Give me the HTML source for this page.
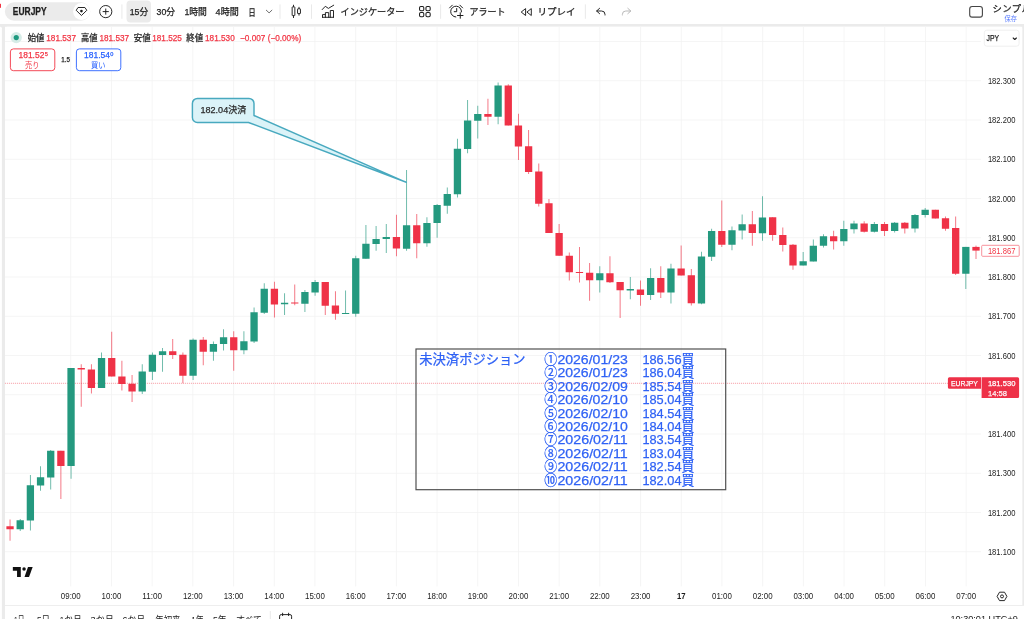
<!DOCTYPE html>
<html lang="ja"><head><meta charset="utf-8"><title>EURJPY</title>
<style>html,body{margin:0;padding:0;background:#fff}body{width:1024px;height:619px;overflow:hidden;position:relative;font-family:"Liberation Sans","Noto Sans CJK JP",sans-serif}svg{position:absolute;left:0;top:0;display:block}text{font-family:"Liberation Sans","Noto Sans CJK JP",sans-serif;stroke-width:0.25px}</style>
</head><body>
<svg width="1024" height="619" viewBox="0 0 1024 619">
<rect x="0" y="0" width="1024" height="619" fill="#fff"/>
<g id="frame">
<rect x="0" y="24" width="1024" height="2.8" fill="#ebebeb"/>
<rect x="0" y="24" width="5" height="595" fill="#ebebeb"/>
<rect x="-2" y="26.8" width="3.9" height="600" rx="1.5" fill="#fff"/>
<rect x="1022.2" y="24" width="1.8" height="581.5" fill="#ebebeb"/>
<rect x="5" y="26.8" width="1017.2" height="600" rx="2" fill="#fff"/>
<rect x="1010" y="605.5" width="14" height="14" fill="#fff"/>
<rect x="0" y="3.8" width="1" height="4" fill="#f23645"/>
</g>
<g id="grid" stroke="#f2f2f3" stroke-width="0.8" fill="none">
<line x1="5" y1="41.50" x2="981" y2="41.50"/>
<line x1="5" y1="80.75" x2="981" y2="80.75"/>
<line x1="5" y1="120.00" x2="981" y2="120.00"/>
<line x1="5" y1="159.25" x2="981" y2="159.25"/>
<line x1="5" y1="198.50" x2="981" y2="198.50"/>
<line x1="5" y1="237.75" x2="981" y2="237.75"/>
<line x1="5" y1="277.00" x2="981" y2="277.00"/>
<line x1="5" y1="316.25" x2="981" y2="316.25"/>
<line x1="5" y1="355.50" x2="981" y2="355.50"/>
<line x1="5" y1="394.75" x2="981" y2="394.75"/>
<line x1="5" y1="434.00" x2="981" y2="434.00"/>
<line x1="5" y1="473.25" x2="981" y2="473.25"/>
<line x1="5" y1="512.50" x2="981" y2="512.50"/>
<line x1="5" y1="551.75" x2="981" y2="551.75"/>
<line x1="70.75" y1="27" x2="70.75" y2="586.4"/>
<line x1="111.45" y1="27" x2="111.45" y2="586.4"/>
<line x1="152.15" y1="27" x2="152.15" y2="586.4"/>
<line x1="192.85" y1="27" x2="192.85" y2="586.4"/>
<line x1="233.55" y1="27" x2="233.55" y2="586.4"/>
<line x1="274.25" y1="27" x2="274.25" y2="586.4"/>
<line x1="314.95" y1="27" x2="314.95" y2="586.4"/>
<line x1="355.65" y1="27" x2="355.65" y2="586.4"/>
<line x1="396.35" y1="27" x2="396.35" y2="586.4"/>
<line x1="437.05" y1="27" x2="437.05" y2="586.4"/>
<line x1="477.75" y1="27" x2="477.75" y2="586.4"/>
<line x1="518.45" y1="27" x2="518.45" y2="586.4"/>
<line x1="559.15" y1="27" x2="559.15" y2="586.4"/>
<line x1="599.85" y1="27" x2="599.85" y2="586.4"/>
<line x1="640.55" y1="27" x2="640.55" y2="586.4"/>
<line x1="681.25" y1="27" x2="681.25" y2="586.4"/>
<line x1="721.95" y1="27" x2="721.95" y2="586.4"/>
<line x1="762.65" y1="27" x2="762.65" y2="586.4"/>
<line x1="803.35" y1="27" x2="803.35" y2="586.4"/>
<line x1="844.05" y1="27" x2="844.05" y2="586.4"/>
<line x1="884.75" y1="27" x2="884.75" y2="586.4"/>
<line x1="925.45" y1="27" x2="925.45" y2="586.4"/>
<line x1="966.15" y1="27" x2="966.15" y2="586.4"/>
</g>
<line x1="4.7" y1="605.5" x2="1024" y2="605.5" stroke="#ececec" stroke-width="0.9"/>
<line x1="5.2" y1="383.3" x2="948" y2="383.3" stroke="#f23645" stroke-width="0.9" stroke-dasharray="0.9 1.1" opacity="0.62"/>
<g id="candles">
<rect x="9.59" y="519.50" width="0.9" height="21.25" fill="#ef3247" opacity="0.72"/>
<rect x="6.39" y="526.25" width="7.3" height="3.00" fill="#ef3247"/>
<rect x="19.76" y="519.00" width="0.9" height="12.00" fill="#24997f" opacity="0.72"/>
<rect x="16.56" y="520.25" width="7.3" height="9.00" fill="#24997f"/>
<rect x="29.93" y="475.00" width="0.9" height="55.50" fill="#24997f" opacity="0.72"/>
<rect x="26.73" y="485.25" width="7.3" height="35.25" fill="#24997f"/>
<rect x="40.10" y="466.25" width="0.9" height="24.50" fill="#24997f" opacity="0.72"/>
<rect x="36.90" y="477.25" width="7.3" height="8.25" fill="#24997f"/>
<rect x="50.26" y="450.00" width="0.9" height="39.50" fill="#24997f" opacity="0.72"/>
<rect x="47.06" y="450.75" width="7.3" height="26.75" fill="#24997f"/>
<rect x="60.43" y="450.75" width="0.9" height="48.25" fill="#ef3247" opacity="0.72"/>
<rect x="57.23" y="450.75" width="7.3" height="15.25" fill="#ef3247"/>
<rect x="70.60" y="368.00" width="0.9" height="110.75" fill="#24997f" opacity="0.72"/>
<rect x="67.40" y="368.00" width="7.3" height="98.00" fill="#24997f"/>
<rect x="80.77" y="364.25" width="0.9" height="42.50" fill="#ef3247" opacity="0.72"/>
<rect x="77.57" y="368.00" width="7.3" height="1.50" fill="#ef3247"/>
<rect x="90.94" y="364.25" width="0.9" height="29.25" fill="#ef3247" opacity="0.72"/>
<rect x="87.74" y="369.50" width="7.3" height="18.50" fill="#ef3247"/>
<rect x="101.10" y="352.50" width="0.9" height="35.50" fill="#24997f" opacity="0.72"/>
<rect x="97.90" y="358.00" width="7.3" height="30.00" fill="#24997f"/>
<rect x="111.27" y="331.75" width="0.9" height="44.75" fill="#ef3247" opacity="0.72"/>
<rect x="108.07" y="358.00" width="7.3" height="18.50" fill="#ef3247"/>
<rect x="121.44" y="360.75" width="0.9" height="29.75" fill="#ef3247" opacity="0.72"/>
<rect x="118.24" y="376.50" width="7.3" height="7.50" fill="#ef3247"/>
<rect x="131.61" y="375.00" width="0.9" height="27.00" fill="#ef3247" opacity="0.72"/>
<rect x="128.41" y="383.75" width="7.3" height="7.75" fill="#ef3247"/>
<rect x="141.78" y="364.25" width="0.9" height="29.75" fill="#24997f" opacity="0.72"/>
<rect x="138.58" y="371.50" width="7.3" height="20.00" fill="#24997f"/>
<rect x="151.94" y="352.50" width="0.9" height="27.50" fill="#24997f" opacity="0.72"/>
<rect x="148.74" y="354.75" width="7.3" height="17.00" fill="#24997f"/>
<rect x="162.11" y="348.00" width="0.9" height="23.75" fill="#24997f" opacity="0.72"/>
<rect x="158.91" y="351.25" width="7.3" height="3.75" fill="#24997f"/>
<rect x="172.28" y="339.00" width="0.9" height="20.00" fill="#ef3247" opacity="0.72"/>
<rect x="169.08" y="351.25" width="7.3" height="3.75" fill="#ef3247"/>
<rect x="182.45" y="352.50" width="0.9" height="30.75" fill="#ef3247" opacity="0.72"/>
<rect x="179.25" y="354.75" width="7.3" height="21.00" fill="#ef3247"/>
<rect x="192.62" y="338.50" width="0.9" height="41.50" fill="#24997f" opacity="0.72"/>
<rect x="189.42" y="339.75" width="7.3" height="36.00" fill="#24997f"/>
<rect x="202.78" y="337.00" width="0.9" height="28.25" fill="#ef3247" opacity="0.72"/>
<rect x="199.58" y="339.75" width="7.3" height="12.00" fill="#ef3247"/>
<rect x="212.95" y="341.50" width="0.9" height="19.25" fill="#24997f" opacity="0.72"/>
<rect x="209.75" y="344.00" width="7.3" height="7.75" fill="#24997f"/>
<rect x="223.12" y="329.25" width="0.9" height="21.25" fill="#24997f" opacity="0.72"/>
<rect x="219.92" y="337.25" width="7.3" height="6.75" fill="#24997f"/>
<rect x="233.29" y="331.25" width="0.9" height="39.50" fill="#ef3247" opacity="0.72"/>
<rect x="230.09" y="337.25" width="7.3" height="13.00" fill="#ef3247"/>
<rect x="243.46" y="331.25" width="0.9" height="23.00" fill="#24997f" opacity="0.72"/>
<rect x="240.26" y="341.25" width="7.3" height="9.00" fill="#24997f"/>
<rect x="253.62" y="307.50" width="0.9" height="35.50" fill="#24997f" opacity="0.72"/>
<rect x="250.42" y="312.25" width="7.3" height="29.25" fill="#24997f"/>
<rect x="263.79" y="283.25" width="0.9" height="30.75" fill="#24997f" opacity="0.72"/>
<rect x="260.59" y="288.75" width="7.3" height="24.00" fill="#24997f"/>
<rect x="273.96" y="281.75" width="0.9" height="35.75" fill="#ef3247" opacity="0.72"/>
<rect x="270.76" y="288.75" width="7.3" height="15.75" fill="#ef3247"/>
<rect x="284.13" y="293.25" width="0.9" height="21.75" fill="#24997f" opacity="0.72"/>
<rect x="280.93" y="302.75" width="7.3" height="1.50" fill="#24997f"/>
<rect x="294.30" y="284.50" width="0.9" height="20.75" fill="#ef3247" opacity="0.72"/>
<rect x="291.10" y="302.50" width="7.3" height="1.00" fill="#ef3247"/>
<rect x="304.46" y="290.00" width="0.9" height="22.00" fill="#24997f" opacity="0.72"/>
<rect x="301.26" y="292.00" width="7.3" height="11.75" fill="#24997f"/>
<rect x="314.63" y="280.00" width="0.9" height="15.75" fill="#24997f" opacity="0.72"/>
<rect x="311.43" y="282.00" width="7.3" height="10.50" fill="#24997f"/>
<rect x="324.80" y="282.00" width="0.9" height="33.00" fill="#ef3247" opacity="0.72"/>
<rect x="321.60" y="282.00" width="7.3" height="23.75" fill="#ef3247"/>
<rect x="334.97" y="291.25" width="0.9" height="28.50" fill="#ef3247" opacity="0.72"/>
<rect x="331.77" y="305.50" width="7.3" height="8.25" fill="#ef3247"/>
<rect x="345.14" y="290.50" width="0.9" height="23.50" fill="#24997f" opacity="0.72"/>
<rect x="341.94" y="313.00" width="7.3" height="1.00" fill="#24997f"/>
<rect x="355.30" y="255.75" width="0.9" height="61.00" fill="#24997f" opacity="0.72"/>
<rect x="352.10" y="258.25" width="7.3" height="55.50" fill="#24997f"/>
<rect x="365.47" y="225.00" width="0.9" height="33.75" fill="#24997f" opacity="0.72"/>
<rect x="362.27" y="243.75" width="7.3" height="15.00" fill="#24997f"/>
<rect x="375.64" y="226.00" width="0.9" height="24.75" fill="#24997f" opacity="0.72"/>
<rect x="372.44" y="239.00" width="7.3" height="5.00" fill="#24997f"/>
<rect x="385.81" y="224.00" width="0.9" height="29.00" fill="#24997f" opacity="0.72"/>
<rect x="382.61" y="237.00" width="7.3" height="2.00" fill="#24997f"/>
<rect x="395.98" y="214.75" width="0.9" height="41.50" fill="#ef3247" opacity="0.72"/>
<rect x="392.78" y="237.00" width="7.3" height="11.50" fill="#ef3247"/>
<rect x="406.14" y="170.00" width="0.9" height="80.75" fill="#24997f" opacity="0.72"/>
<rect x="402.94" y="225.25" width="7.3" height="23.50" fill="#24997f"/>
<rect x="416.31" y="214.00" width="0.9" height="44.25" fill="#ef3247" opacity="0.72"/>
<rect x="413.11" y="225.25" width="7.3" height="18.00" fill="#ef3247"/>
<rect x="426.48" y="217.25" width="0.9" height="29.50" fill="#24997f" opacity="0.72"/>
<rect x="423.28" y="223.00" width="7.3" height="20.25" fill="#24997f"/>
<rect x="436.65" y="204.00" width="0.9" height="33.75" fill="#24997f" opacity="0.72"/>
<rect x="433.45" y="205.00" width="7.3" height="18.00" fill="#24997f"/>
<rect x="446.82" y="187.50" width="0.9" height="26.25" fill="#24997f" opacity="0.72"/>
<rect x="443.62" y="194.00" width="7.3" height="11.75" fill="#24997f"/>
<rect x="456.98" y="138.75" width="0.9" height="58.75" fill="#24997f" opacity="0.72"/>
<rect x="453.78" y="148.75" width="7.3" height="45.50" fill="#24997f"/>
<rect x="467.15" y="100.00" width="0.9" height="53.25" fill="#24997f" opacity="0.72"/>
<rect x="463.95" y="120.50" width="7.3" height="28.50" fill="#24997f"/>
<rect x="477.32" y="105.75" width="0.9" height="32.75" fill="#24997f" opacity="0.72"/>
<rect x="474.12" y="114.00" width="7.3" height="6.75" fill="#24997f"/>
<rect x="487.49" y="98.75" width="0.9" height="26.25" fill="#ef3247" opacity="0.72"/>
<rect x="484.29" y="114.00" width="7.3" height="2.75" fill="#ef3247"/>
<rect x="497.66" y="82.50" width="0.9" height="41.75" fill="#24997f" opacity="0.72"/>
<rect x="494.46" y="85.50" width="7.3" height="31.25" fill="#24997f"/>
<rect x="507.82" y="84.25" width="0.9" height="41.25" fill="#ef3247" opacity="0.72"/>
<rect x="504.62" y="85.50" width="7.3" height="40.00" fill="#ef3247"/>
<rect x="517.99" y="113.75" width="0.9" height="46.25" fill="#ef3247" opacity="0.72"/>
<rect x="514.79" y="125.50" width="7.3" height="21.00" fill="#ef3247"/>
<rect x="528.16" y="130.00" width="0.9" height="44.00" fill="#ef3247" opacity="0.72"/>
<rect x="524.96" y="146.25" width="7.3" height="25.75" fill="#ef3247"/>
<rect x="538.33" y="163.50" width="0.9" height="43.00" fill="#ef3247" opacity="0.72"/>
<rect x="535.13" y="171.50" width="7.3" height="32.25" fill="#ef3247"/>
<rect x="548.50" y="199.00" width="0.9" height="34.00" fill="#ef3247" opacity="0.72"/>
<rect x="545.30" y="203.25" width="7.3" height="29.75" fill="#ef3247"/>
<rect x="558.66" y="224.00" width="0.9" height="31.75" fill="#ef3247" opacity="0.72"/>
<rect x="555.46" y="233.00" width="7.3" height="22.75" fill="#ef3247"/>
<rect x="568.83" y="252.50" width="0.9" height="28.00" fill="#ef3247" opacity="0.72"/>
<rect x="565.63" y="255.75" width="7.3" height="16.50" fill="#ef3247"/>
<rect x="579.00" y="247.00" width="0.9" height="35.50" fill="#ef3247" opacity="0.72"/>
<rect x="575.80" y="272.00" width="7.3" height="1.00" fill="#ef3247"/>
<rect x="589.17" y="263.00" width="0.9" height="37.75" fill="#ef3247" opacity="0.72"/>
<rect x="585.97" y="272.75" width="7.3" height="7.50" fill="#ef3247"/>
<rect x="599.34" y="266.25" width="0.9" height="26.25" fill="#24997f" opacity="0.72"/>
<rect x="596.14" y="273.25" width="7.3" height="7.00" fill="#24997f"/>
<rect x="609.50" y="256.25" width="0.9" height="26.75" fill="#ef3247" opacity="0.72"/>
<rect x="606.30" y="273.25" width="7.3" height="9.00" fill="#ef3247"/>
<rect x="619.67" y="282.00" width="0.9" height="36.00" fill="#ef3247" opacity="0.72"/>
<rect x="616.47" y="282.00" width="7.3" height="8.25" fill="#ef3247"/>
<rect x="629.84" y="277.00" width="0.9" height="22.25" fill="#24997f" opacity="0.72"/>
<rect x="626.64" y="289.00" width="7.3" height="1.50" fill="#24997f"/>
<rect x="640.01" y="280.50" width="0.9" height="25.25" fill="#ef3247" opacity="0.72"/>
<rect x="636.81" y="289.50" width="7.3" height="5.50" fill="#ef3247"/>
<rect x="650.18" y="268.25" width="0.9" height="31.75" fill="#24997f" opacity="0.72"/>
<rect x="646.98" y="278.00" width="7.3" height="17.00" fill="#24997f"/>
<rect x="660.34" y="266.25" width="0.9" height="31.75" fill="#ef3247" opacity="0.72"/>
<rect x="657.14" y="278.00" width="7.3" height="14.50" fill="#ef3247"/>
<rect x="670.51" y="263.75" width="0.9" height="39.75" fill="#24997f" opacity="0.72"/>
<rect x="667.31" y="268.50" width="7.3" height="24.00" fill="#24997f"/>
<rect x="680.68" y="245.50" width="0.9" height="30.00" fill="#ef3247" opacity="0.72"/>
<rect x="677.48" y="268.50" width="7.3" height="7.00" fill="#ef3247"/>
<rect x="690.85" y="269.00" width="0.9" height="36.50" fill="#ef3247" opacity="0.72"/>
<rect x="687.65" y="275.25" width="7.3" height="28.00" fill="#ef3247"/>
<rect x="701.02" y="251.75" width="0.9" height="52.50" fill="#24997f" opacity="0.72"/>
<rect x="697.82" y="256.50" width="7.3" height="47.00" fill="#24997f"/>
<rect x="711.18" y="228.75" width="0.9" height="32.25" fill="#24997f" opacity="0.72"/>
<rect x="707.98" y="231.00" width="7.3" height="25.75" fill="#24997f"/>
<rect x="721.35" y="200.50" width="0.9" height="46.50" fill="#ef3247" opacity="0.72"/>
<rect x="718.15" y="231.00" width="7.3" height="13.75" fill="#ef3247"/>
<rect x="731.52" y="226.50" width="0.9" height="23.75" fill="#24997f" opacity="0.72"/>
<rect x="728.32" y="230.25" width="7.3" height="14.50" fill="#24997f"/>
<rect x="741.69" y="214.50" width="0.9" height="25.00" fill="#24997f" opacity="0.72"/>
<rect x="738.49" y="224.25" width="7.3" height="6.25" fill="#24997f"/>
<rect x="751.86" y="211.00" width="0.9" height="34.75" fill="#ef3247" opacity="0.72"/>
<rect x="748.66" y="224.25" width="7.3" height="8.75" fill="#ef3247"/>
<rect x="762.02" y="196.25" width="0.9" height="44.50" fill="#24997f" opacity="0.72"/>
<rect x="758.82" y="217.50" width="7.3" height="15.75" fill="#24997f"/>
<rect x="772.19" y="217.25" width="0.9" height="23.50" fill="#ef3247" opacity="0.72"/>
<rect x="768.99" y="217.25" width="7.3" height="17.75" fill="#ef3247"/>
<rect x="782.36" y="227.50" width="0.9" height="24.00" fill="#ef3247" opacity="0.72"/>
<rect x="779.16" y="235.00" width="7.3" height="10.00" fill="#ef3247"/>
<rect x="792.53" y="244.00" width="0.9" height="25.75" fill="#ef3247" opacity="0.72"/>
<rect x="789.33" y="244.75" width="7.3" height="20.75" fill="#ef3247"/>
<rect x="802.70" y="252.00" width="0.9" height="13.50" fill="#24997f" opacity="0.72"/>
<rect x="799.50" y="261.25" width="7.3" height="4.25" fill="#24997f"/>
<rect x="812.86" y="239.50" width="0.9" height="22.00" fill="#24997f" opacity="0.72"/>
<rect x="809.66" y="245.75" width="7.3" height="15.75" fill="#24997f"/>
<rect x="823.03" y="234.25" width="0.9" height="13.25" fill="#24997f" opacity="0.72"/>
<rect x="819.83" y="236.25" width="7.3" height="9.50" fill="#24997f"/>
<rect x="833.20" y="230.75" width="0.9" height="18.75" fill="#ef3247" opacity="0.72"/>
<rect x="830.00" y="236.25" width="7.3" height="5.00" fill="#ef3247"/>
<rect x="843.37" y="220.75" width="0.9" height="25.00" fill="#24997f" opacity="0.72"/>
<rect x="840.17" y="229.00" width="7.3" height="12.25" fill="#24997f"/>
<rect x="853.54" y="220.75" width="0.9" height="12.75" fill="#24997f" opacity="0.72"/>
<rect x="850.34" y="223.50" width="7.3" height="5.75" fill="#24997f"/>
<rect x="863.70" y="221.25" width="0.9" height="11.25" fill="#ef3247" opacity="0.72"/>
<rect x="860.50" y="223.50" width="7.3" height="8.25" fill="#ef3247"/>
<rect x="873.87" y="222.00" width="0.9" height="10.50" fill="#24997f" opacity="0.72"/>
<rect x="870.67" y="224.00" width="7.3" height="7.75" fill="#24997f"/>
<rect x="884.04" y="222.00" width="0.9" height="14.00" fill="#ef3247" opacity="0.72"/>
<rect x="880.84" y="224.00" width="7.3" height="7.00" fill="#ef3247"/>
<rect x="894.21" y="222.00" width="0.9" height="10.50" fill="#24997f" opacity="0.72"/>
<rect x="891.01" y="222.75" width="7.3" height="8.25" fill="#24997f"/>
<rect x="904.38" y="222.00" width="0.9" height="11.50" fill="#ef3247" opacity="0.72"/>
<rect x="901.18" y="222.75" width="7.3" height="5.75" fill="#ef3247"/>
<rect x="914.54" y="214.00" width="0.9" height="18.50" fill="#24997f" opacity="0.72"/>
<rect x="911.34" y="215.00" width="7.3" height="13.50" fill="#24997f"/>
<rect x="924.71" y="208.00" width="0.9" height="9.50" fill="#24997f" opacity="0.72"/>
<rect x="921.51" y="209.75" width="7.3" height="5.25" fill="#24997f"/>
<rect x="934.88" y="209.75" width="0.9" height="8.75" fill="#ef3247" opacity="0.72"/>
<rect x="931.68" y="209.75" width="7.3" height="8.75" fill="#ef3247"/>
<rect x="945.05" y="216.50" width="0.9" height="14.25" fill="#ef3247" opacity="0.72"/>
<rect x="941.85" y="218.25" width="7.3" height="10.50" fill="#ef3247"/>
<rect x="955.22" y="216.50" width="0.9" height="58.50" fill="#ef3247" opacity="0.72"/>
<rect x="952.02" y="228.00" width="7.3" height="45.75" fill="#ef3247"/>
<rect x="965.38" y="246.90" width="0.9" height="42.10" fill="#24997f" opacity="0.72"/>
<rect x="962.18" y="246.90" width="7.3" height="26.85" fill="#24997f"/>
<rect x="975.55" y="245.60" width="0.9" height="13.40" fill="#ef3247" opacity="0.72"/>
<rect x="972.35" y="246.90" width="7.3" height="3.70" fill="#ef3247"/>
</g>
<g id="callout">
<path d="M197.4 98.4 H249 a5 5 0 0 1 5 5 V115.5 L406.3 182.3 L248.5 122.5 H197.4 a5 5 0 0 1 -5 -5 V103.4 a5 5 0 0 1 5 -5 Z" fill="#d6f1f7" fill-opacity="0.88" stroke="#48a9bf" stroke-width="1.45" stroke-linejoin="round"/>
<text x="200.5" y="112.9" font-size="9.33" fill="#2a2a2a" stroke="#2a2a2a" stroke-width="0.12" textLength="45.8" lengthAdjust="spacingAndGlyphs">182.04決済</text>
</g>
<g id="posbox">
<rect x="416" y="349" width="309.7" height="140.7" fill="none" stroke="#505050" stroke-width="1.2"/>
<g font-size="13.3" fill="#2f62f5" stroke="#2f62f5">
<text x="419.3" y="363.7" textLength="106.3" lengthAdjust="spacingAndGlyphs">未決済ポジション</text>
<text x="544.2" y="363.70" textLength="13" lengthAdjust="spacingAndGlyphs">①</text>
<text x="557.4" y="363.70" textLength="70.4" lengthAdjust="spacingAndGlyphs">2026/01/23</text>
<text x="642.4" y="363.70" textLength="39.1" lengthAdjust="spacingAndGlyphs">186.56</text>
<text x="681.5" y="363.70" textLength="12.8" lengthAdjust="spacingAndGlyphs">買</text>
<text x="544.2" y="377.15" textLength="13" lengthAdjust="spacingAndGlyphs">②</text>
<text x="557.4" y="377.15" textLength="70.4" lengthAdjust="spacingAndGlyphs">2026/01/23</text>
<text x="642.4" y="377.15" textLength="39.1" lengthAdjust="spacingAndGlyphs">186.04</text>
<text x="681.5" y="377.15" textLength="12.8" lengthAdjust="spacingAndGlyphs">買</text>
<text x="544.2" y="390.60" textLength="13" lengthAdjust="spacingAndGlyphs">③</text>
<text x="557.4" y="390.60" textLength="70.4" lengthAdjust="spacingAndGlyphs">2026/02/09</text>
<text x="642.4" y="390.60" textLength="39.1" lengthAdjust="spacingAndGlyphs">185.54</text>
<text x="681.5" y="390.60" textLength="12.8" lengthAdjust="spacingAndGlyphs">買</text>
<text x="544.2" y="404.05" textLength="13" lengthAdjust="spacingAndGlyphs">④</text>
<text x="557.4" y="404.05" textLength="70.4" lengthAdjust="spacingAndGlyphs">2026/02/10</text>
<text x="642.4" y="404.05" textLength="39.1" lengthAdjust="spacingAndGlyphs">185.04</text>
<text x="681.5" y="404.05" textLength="12.8" lengthAdjust="spacingAndGlyphs">買</text>
<text x="544.2" y="417.50" textLength="13" lengthAdjust="spacingAndGlyphs">⑤</text>
<text x="557.4" y="417.50" textLength="70.4" lengthAdjust="spacingAndGlyphs">2026/02/10</text>
<text x="642.4" y="417.50" textLength="39.1" lengthAdjust="spacingAndGlyphs">184.54</text>
<text x="681.5" y="417.50" textLength="12.8" lengthAdjust="spacingAndGlyphs">買</text>
<text x="544.2" y="430.95" textLength="13" lengthAdjust="spacingAndGlyphs">⑥</text>
<text x="557.4" y="430.95" textLength="70.4" lengthAdjust="spacingAndGlyphs">2026/02/10</text>
<text x="642.4" y="430.95" textLength="39.1" lengthAdjust="spacingAndGlyphs">184.04</text>
<text x="681.5" y="430.95" textLength="12.8" lengthAdjust="spacingAndGlyphs">買</text>
<text x="544.2" y="444.40" textLength="13" lengthAdjust="spacingAndGlyphs">⑦</text>
<text x="557.4" y="444.40" textLength="70.4" lengthAdjust="spacingAndGlyphs">2026/02/11</text>
<text x="642.4" y="444.40" textLength="39.1" lengthAdjust="spacingAndGlyphs">183.54</text>
<text x="681.5" y="444.40" textLength="12.8" lengthAdjust="spacingAndGlyphs">買</text>
<text x="544.2" y="457.85" textLength="13" lengthAdjust="spacingAndGlyphs">⑧</text>
<text x="557.4" y="457.85" textLength="70.4" lengthAdjust="spacingAndGlyphs">2026/02/11</text>
<text x="642.4" y="457.85" textLength="39.1" lengthAdjust="spacingAndGlyphs">183.04</text>
<text x="681.5" y="457.85" textLength="12.8" lengthAdjust="spacingAndGlyphs">買</text>
<text x="544.2" y="471.30" textLength="13" lengthAdjust="spacingAndGlyphs">⑨</text>
<text x="557.4" y="471.30" textLength="70.4" lengthAdjust="spacingAndGlyphs">2026/02/11</text>
<text x="642.4" y="471.30" textLength="39.1" lengthAdjust="spacingAndGlyphs">182.54</text>
<text x="681.5" y="471.30" textLength="12.8" lengthAdjust="spacingAndGlyphs">買</text>
<text x="544.2" y="484.75" textLength="13" lengthAdjust="spacingAndGlyphs">⑩</text>
<text x="557.4" y="484.75" textLength="70.4" lengthAdjust="spacingAndGlyphs">2026/02/11</text>
<text x="642.4" y="484.75" textLength="39.1" lengthAdjust="spacingAndGlyphs">182.04</text>
<text x="681.5" y="484.75" textLength="12.8" lengthAdjust="spacingAndGlyphs">買</text>
</g></g>
<g id="paxis" font-size="8.5" fill="#1c1c1c">
<text x="987.9" y="83.95" textLength="27.5" lengthAdjust="spacingAndGlyphs">182.300</text>
<text x="987.9" y="123.20" textLength="27.5" lengthAdjust="spacingAndGlyphs">182.200</text>
<text x="987.9" y="162.45" textLength="27.5" lengthAdjust="spacingAndGlyphs">182.100</text>
<text x="987.9" y="201.70" textLength="27.5" lengthAdjust="spacingAndGlyphs">182.000</text>
<text x="987.9" y="240.95" textLength="27.5" lengthAdjust="spacingAndGlyphs">181.900</text>
<text x="987.9" y="280.20" textLength="27.5" lengthAdjust="spacingAndGlyphs">181.800</text>
<text x="987.9" y="319.45" textLength="27.5" lengthAdjust="spacingAndGlyphs">181.700</text>
<text x="987.9" y="358.70" textLength="27.5" lengthAdjust="spacingAndGlyphs">181.600</text>
<text x="987.9" y="397.95" textLength="27.5" lengthAdjust="spacingAndGlyphs">181.500</text>
<text x="987.9" y="437.20" textLength="27.5" lengthAdjust="spacingAndGlyphs">181.400</text>
<text x="987.9" y="476.45" textLength="27.5" lengthAdjust="spacingAndGlyphs">181.300</text>
<text x="987.9" y="515.70" textLength="27.5" lengthAdjust="spacingAndGlyphs">181.200</text>
<text x="987.9" y="554.95" textLength="27.5" lengthAdjust="spacingAndGlyphs">181.100</text>
</g>
<rect x="981.7" y="245.3" width="37.5" height="11" rx="1" fill="#fff" stroke="#f5808b" stroke-width="0.85"/>
<text x="987.9" y="253.6" font-size="8.5" fill="#f23645" stroke="none" textLength="27.5" lengthAdjust="spacingAndGlyphs">181.867</text>
<path d="M949.4 377.3 H981 V388.7 H949.4 a1.5 1.5 0 0 1 -1.5 -1.5 V378.8 a1.5 1.5 0 0 1 1.5 -1.5 Z" fill="#ee3148"/>
<text x="951" y="386.4" font-size="8" fill="#fff" textLength="26.9" lengthAdjust="spacingAndGlyphs" stroke="#fff">EURJPY</text>
<path d="M981.6 377.3 H1017.6 a1.5 1.5 0 0 1 1.5 1.5 V396.6 a1.5 1.5 0 0 1 -1.5 1.5 H981.6 Z" fill="#ee3148"/>
<text x="987.9" y="386.4" font-size="8" fill="#fff" textLength="27.5" lengthAdjust="spacingAndGlyphs" stroke="#fff">181.530</text>
<text x="987.9" y="395.6" font-size="8" fill="#fff" fill-opacity="0.85" textLength="19.1" lengthAdjust="spacingAndGlyphs" stroke="#fff">14:58</text>
<rect x="984.3" y="30.2" width="34.8" height="16" rx="2.5" fill="#fff" stroke="#eeeeee" stroke-width="0.9"/>
<text x="986.6" y="41.2" font-size="8.67" fill="#1c1c1c" textLength="12.5" lengthAdjust="spacingAndGlyphs" stroke="#1c1c1c">JPY</text>
<path d="M1013.2 38 L1014.8 39.5 L1016.4 38" fill="none" stroke="#1c1c1c" stroke-width="1.1" stroke-linecap="round" stroke-linejoin="round"/>
<g id="taxis" font-size="8.5" fill="#1c1c1c" text-anchor="middle">
<text x="70.75" y="599" textLength="19.8" lengthAdjust="spacingAndGlyphs">09:00</text>
<text x="111.45" y="599" textLength="19.8" lengthAdjust="spacingAndGlyphs">10:00</text>
<text x="152.15" y="599" textLength="19.8" lengthAdjust="spacingAndGlyphs">11:00</text>
<text x="192.85" y="599" textLength="19.8" lengthAdjust="spacingAndGlyphs">12:00</text>
<text x="233.55" y="599" textLength="19.8" lengthAdjust="spacingAndGlyphs">13:00</text>
<text x="274.25" y="599" textLength="19.8" lengthAdjust="spacingAndGlyphs">14:00</text>
<text x="314.95" y="599" textLength="19.8" lengthAdjust="spacingAndGlyphs">15:00</text>
<text x="355.65" y="599" textLength="19.8" lengthAdjust="spacingAndGlyphs">16:00</text>
<text x="396.35" y="599" textLength="19.8" lengthAdjust="spacingAndGlyphs">17:00</text>
<text x="437.05" y="599" textLength="19.8" lengthAdjust="spacingAndGlyphs">18:00</text>
<text x="477.75" y="599" textLength="19.8" lengthAdjust="spacingAndGlyphs">19:00</text>
<text x="518.45" y="599" textLength="19.8" lengthAdjust="spacingAndGlyphs">20:00</text>
<text x="559.15" y="599" textLength="19.8" lengthAdjust="spacingAndGlyphs">21:00</text>
<text x="599.85" y="599" textLength="19.8" lengthAdjust="spacingAndGlyphs">22:00</text>
<text x="640.55" y="599" textLength="19.8" lengthAdjust="spacingAndGlyphs">23:00</text>
<text x="681.25" y="599" font-weight="bold" textLength="8.6" lengthAdjust="spacingAndGlyphs">17</text>
<text x="721.95" y="599" textLength="19.8" lengthAdjust="spacingAndGlyphs">01:00</text>
<text x="762.65" y="599" textLength="19.8" lengthAdjust="spacingAndGlyphs">02:00</text>
<text x="803.35" y="599" textLength="19.8" lengthAdjust="spacingAndGlyphs">03:00</text>
<text x="844.05" y="599" textLength="19.8" lengthAdjust="spacingAndGlyphs">04:00</text>
<text x="884.75" y="599" textLength="19.8" lengthAdjust="spacingAndGlyphs">05:00</text>
<text x="925.45" y="599" textLength="19.8" lengthAdjust="spacingAndGlyphs">06:00</text>
<text x="966.15" y="599" textLength="19.8" lengthAdjust="spacingAndGlyphs">07:00</text>
</g>
<g fill="none" stroke="#1c1c1c" stroke-width="0.95"><path d="M997.1 596.4 L999.5 592.2 H1004.5 L1006.9 596.4 L1004.5 600.6 H999.5 Z" stroke-linejoin="round"/><circle cx="1002" cy="596.4" r="1.5"/></g>
<g id="tvlogo" fill="#111"><path d="M12.85 567 H20.8 V577 H17.05 V570.7 H12.85 Z"/><circle cx="24.06" cy="569.1" r="1.75"/><path d="M28 567 H32.7 L29 577 H24.5 Z"/></g>
<g id="btool" font-size="9.33" fill="#1c1c1c">
<text x="14" y="622.7" textLength="10.4" lengthAdjust="spacingAndGlyphs">1日</text>
<text x="36.9" y="622.7" textLength="13.1" lengthAdjust="spacingAndGlyphs">5日</text>
<text x="59.4" y="622.7" textLength="22.5" lengthAdjust="spacingAndGlyphs">1か月</text>
<text x="90.6" y="622.7" textLength="23.4" lengthAdjust="spacingAndGlyphs">3か月</text>
<text x="122.5" y="622.7" textLength="22.8" lengthAdjust="spacingAndGlyphs">6か月</text>
<text x="155.3" y="622.7" textLength="25.0" lengthAdjust="spacingAndGlyphs">年初来</text>
<text x="191.25" y="622.7" textLength="12.5" lengthAdjust="spacingAndGlyphs">1年</text>
<text x="213" y="622.7" textLength="13.6" lengthAdjust="spacingAndGlyphs">5年</text>
<text x="236" y="622.7" textLength="25.9" lengthAdjust="spacingAndGlyphs">すべて</text>
<text x="950.4" y="621.8" textLength="67.5" lengthAdjust="spacingAndGlyphs">10:30:01 UTC+9</text>
</g>
<line x1="270.3" y1="611" x2="270.3" y2="619" stroke="#e6e6e6" stroke-width="0.9"/>
<g fill="none" stroke="#1c1c1c" stroke-width="0.95"><rect x="279.6" y="614.6" width="12" height="11" rx="1.6"/><line x1="282.6" y1="612.8" x2="282.6" y2="616"/><line x1="288.6" y1="612.8" x2="288.6" y2="616"/></g>
<g id="legend">
<circle cx="16.25" cy="37.6" r="5.6" fill="#d6ece7"/><circle cx="16.25" cy="37.6" r="2.6" fill="#1f9a80"/>
<g font-size="8.67">
<text x="27.75" y="41.3" fill="#1c1c1c" textLength="16.65" lengthAdjust="spacingAndGlyphs" stroke="#1c1c1c">始値</text>
<text x="46.25" y="41.3" fill="#f23645" textLength="29.75" lengthAdjust="spacingAndGlyphs" stroke="#f23645">181.537</text>
<text x="81" y="41.3" fill="#1c1c1c" textLength="16.50" lengthAdjust="spacingAndGlyphs" stroke="#1c1c1c">高値</text>
<text x="99.4" y="41.3" fill="#f23645" textLength="29.70" lengthAdjust="spacingAndGlyphs" stroke="#f23645">181.537</text>
<text x="133.75" y="41.3" fill="#1c1c1c" textLength="16.85" lengthAdjust="spacingAndGlyphs" stroke="#1c1c1c">安値</text>
<text x="152.25" y="41.3" fill="#f23645" textLength="29.65" lengthAdjust="spacingAndGlyphs" stroke="#f23645">181.525</text>
<text x="186.25" y="41.3" fill="#1c1c1c" textLength="16.85" lengthAdjust="spacingAndGlyphs" stroke="#1c1c1c">終値</text>
<text x="205" y="41.3" fill="#f23645" textLength="29.75" lengthAdjust="spacingAndGlyphs" stroke="#f23645">181.530</text>
<text x="240" y="41.3" fill="#f23645" textLength="61.25" lengthAdjust="spacingAndGlyphs" stroke="#f23645">−0.007 (−0.00%)</text>
</g>
<rect x="10.4" y="48.9" width="44.4" height="21.8" rx="3" fill="#fff" stroke="#f23645" stroke-width="0.9"/>
<rect x="76.4" y="48.9" width="44.4" height="21.8" rx="3" fill="#fff" stroke="#2962ff" stroke-width="0.9"/>
<text x="18.5" y="58.1" font-size="8.67" fill="#f23645" textLength="25.9" lengthAdjust="spacingAndGlyphs" stroke="#f23645">181.52</text>
<text x="44.7" y="55.6" font-size="5.6" fill="#f23645" stroke="#f23645">5</text>
<text x="25" y="67.6" font-size="7.6" fill="#f23645" stroke="none" textLength="14.4" lengthAdjust="spacingAndGlyphs">売り</text>
<text x="61.3" y="62.3" font-size="7" fill="#1c1c1c" textLength="8.7" lengthAdjust="spacingAndGlyphs" stroke="#1c1c1c">1.5</text>
<text x="84" y="58.1" font-size="8.67" fill="#2962ff" textLength="26" lengthAdjust="spacingAndGlyphs" stroke="#2962ff">181.54</text>
<text x="110.3" y="55.6" font-size="5.6" fill="#2962ff" stroke="#2962ff">0</text>
<text x="91" y="67.6" font-size="7.6" fill="#2962ff" stroke="none" textLength="14.4" lengthAdjust="spacingAndGlyphs">買い</text>
</g>
<g id="toolbar">
<rect x="4.9" y="2.3" width="85.3" height="18.4" rx="9.2" fill="#ebebeb"/>
<circle cx="81.6" cy="11.4" r="8.5" fill="#fff"/>
<text x="12.8" y="14.9" font-size="10.3" font-weight="bold" fill="#1c1c1c" textLength="33.8" lengthAdjust="spacingAndGlyphs" stroke="#1c1c1c">EURJPY</text>
<g fill="none" stroke="#1c1c1c" stroke-width="0.95" stroke-linejoin="round"><path d="M76.2 10.3 L78 7.5 H84.9 L86.8 10.3 L81.45 15.5 Z"/></g><circle cx="81.45" cy="11.1" r="1.3" fill="#1c1c1c"/>
<g fill="none" stroke="#1c1c1c" stroke-width="0.95"><circle cx="105.75" cy="11.6" r="6.1"/><path d="M102.7 11.6 H108.8 M105.75 8.55 V14.65"/></g>
<line x1="121.9" y1="4.4" x2="121.9" y2="18.8" stroke="#e6e6e6" stroke-width="0.9"/>
<line x1="280" y1="4.4" x2="280" y2="18.8" stroke="#e6e6e6" stroke-width="0.9"/>
<line x1="311.5" y1="4.4" x2="311.5" y2="18.8" stroke="#e6e6e6" stroke-width="0.9"/>
<line x1="440.6" y1="4.4" x2="440.6" y2="18.8" stroke="#e6e6e6" stroke-width="0.9"/>
<line x1="585.4" y1="4.4" x2="585.4" y2="18.8" stroke="#e6e6e6" stroke-width="0.9"/>
<rect x="126.5" y="0.4" width="24.5" height="22.2" rx="4" fill="#ebebeb"/>
<g font-size="9.33" fill="#1c1c1c" stroke="#1c1c1c">
<text x="129.75" y="15.2" fill="#1c1c1c" textLength="18.35" lengthAdjust="spacingAndGlyphs" stroke="#1c1c1c">15分</text>
<text x="156.6" y="15.2" fill="#1c1c1c" textLength="18.40" lengthAdjust="spacingAndGlyphs" stroke="#1c1c1c">30分</text>
<text x="184.4" y="15.2" fill="#1c1c1c" textLength="22.50" lengthAdjust="spacingAndGlyphs" stroke="#1c1c1c">1時間</text>
<text x="215.6" y="15.2" fill="#1c1c1c" textLength="23.15" lengthAdjust="spacingAndGlyphs" stroke="#1c1c1c">4時間</text>
<text x="248.5" y="15.5" fill="#1c1c1c" textLength="7.10" lengthAdjust="spacingAndGlyphs" stroke="#1c1c1c">日</text>
<text x="340.5" y="15.2" fill="#1c1c1c" textLength="64.00" lengthAdjust="spacingAndGlyphs" stroke="#1c1c1c">インジケーター</text>
<text x="469.5" y="15.2" fill="#1c1c1c" textLength="36.00" lengthAdjust="spacingAndGlyphs" stroke="#1c1c1c">アラート</text>
<text x="537.6" y="15.2" fill="#1c1c1c" textLength="38.00" lengthAdjust="spacingAndGlyphs" stroke="#1c1c1c">リプレイ</text>
</g>
<path d="M266.3 10.2 L269.1 12.9 L271.9 10.2" fill="none" stroke="#666" stroke-width="0.95" stroke-linecap="round" stroke-linejoin="round"/>
<g fill="none" stroke="#1c1c1c" stroke-width="0.95"><rect x="292.15" y="6.9" width="2.7" height="8.7" rx="0.4"/><path d="M293.5 4.8 V6.9 M293.5 15.6 V18"/><rect x="297.55" y="8.8" width="2.9" height="4.8" rx="0.4"/><path d="M299 6.9 V8.8 M299 13.6 V15.6"/></g>
<g fill="none" stroke="#1c1c1c" stroke-width="0.95" stroke-linejoin="round" stroke-linecap="round"><path d="M322.2 9.6 L325.3 6.3 L328.4 8.4 L333.7 5.2"/><path d="M322.5 17.3 V14.6 H325.4 V17.3 M325.4 14.6 V12.6 H328.7 V17.3 M330.3 17.3 V10.5 H333.5 V17.3 M322.5 17.3 H333.5"/></g>
<g fill="none" stroke="#1c1c1c" stroke-width="1.05"><rect x="419.55" y="6.45" width="4.25" height="4.25" rx="1.25"/><rect x="425.95" y="6.45" width="4.25" height="4.25" rx="1.25"/><rect x="419.55" y="12.4" width="4.25" height="4.25" rx="1.25"/><rect x="425.95" y="12.4" width="4.25" height="4.25" rx="1.25"/></g>
<g fill="none" stroke="#1c1c1c" stroke-width="1" stroke-linecap="round"><path d="M455.8 17 A5.4 5.4 0 1 1 461.49 11.9"/><path d="M456.7 8.5 V11.7 H454.2"/><path d="M449.6 7.9 L452.35 5.15 M459.85 5.15 L462.6 7.9"/><path d="M457.5 15.5 H463 M460.25 12.75 V18.25"/></g>
<g fill="none" stroke="#1c1c1c" stroke-width="0.95" stroke-linejoin="round"><path d="M525.6 8.6 V15.5 L521.2 12.05 Z"/><path d="M531.3 8.6 V15.5 L526.9 12.05 Z"/></g>
<path d="M599.6 8.3 L596.6 11 L599.6 13.7 M596.8 11 H601.6 a3.4 3.4 0 0 1 3.4 3.4 V15" fill="none" stroke="#1c1c1c" stroke-width="0.95" stroke-linecap="round" stroke-linejoin="round"/>
<path d="M627.8 8.3 L630.8 11 L627.8 13.7 M630.6 11 H625.8 a3.4 3.4 0 0 0 -3.4 3.4 V15" fill="none" stroke="#b5b5b5" stroke-width="0.95" stroke-linecap="round" stroke-linejoin="round"/>
<rect x="969.7" y="6.5" width="12.7" height="10.6" rx="2.4" fill="none" stroke="#444" stroke-width="1.1"/>
<text x="992.4" y="12.4" font-size="9.33" letter-spacing="0.45" fill="#1c1c1c" stroke="#1c1c1c">シンプル</text>
<text x="1004.5" y="20.6" font-size="6.5" fill="#5a7dff" stroke="none" textLength="12.5" lengthAdjust="spacingAndGlyphs">保存</text>
</g>
</svg>
</body></html>
